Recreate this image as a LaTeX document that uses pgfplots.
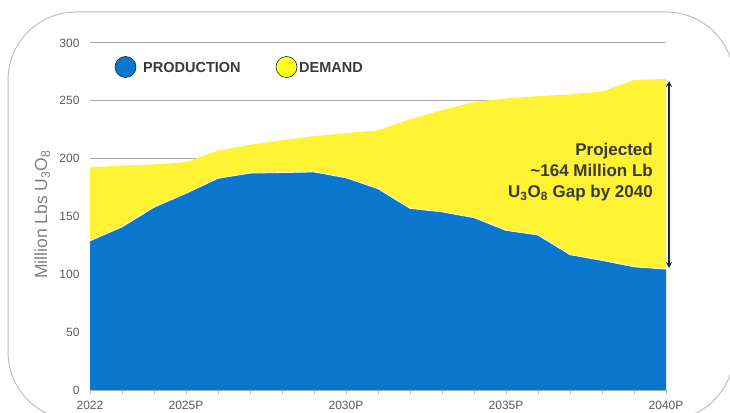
\documentclass[border=0pt]{standalone}
\usepackage{pgfplots}
\pgfplotsset{compat=1.18}
\usepackage{pgfplotstable}
\usetikzlibrary{arrows.meta}
\usepackage{fontspec}
\setmainfont{Liberation Sans}
\definecolor{prodblue}{HTML}{0B77CC}
\definecolor{demyellow}{HTML}{FFF333}
\definecolor{legyellow}{HTML}{FFFF1A}
\definecolor{ticktext}{HTML}{595959}
\definecolor{labeltext}{HTML}{808080}
\definecolor{darktext}{HTML}{3A3A3A}
\definecolor{arrownavy}{HTML}{1A2A3A}
\pgfplotstableread{
year prod dem
2022 129 192.5
2023 141 194
2024 158 195
2025 170 197
2026 183 207
2027 187.5 212
2028 188 216
2029 188.5 219.5
2030 183.5 222
2031 174 224.5
2032 157 234
2033 154 242
2034 149 249
2035 138 252
2036 134 254
2037 117 255.5
2038 112 258
2039 106.5 268
2040 104.5 269
}\datatable
\begin{document}
\begin{tikzpicture}[x=1pt,y=1pt]
\useasboundingbox (0,0) rectangle (730,412);
\clip (0,0) rectangle (730,412);
\draw[black!25, line width=1pt, rounded corners=68pt] (8,400) rectangle (734,-8);
\begin{axis}[
  at={(90pt,22pt)}, anchor=south west,
  scale only axis, width=576pt, height=347pt,
  xmin=2022, xmax=2040, ymin=0, ymax=300,
  axis lines*=left,
  y axis line style={draw=none},
  x axis line style={black!30, line width=0.8pt},
  ytick={0,50,...,300},
  ytick style={draw=none},
  xtick={2022,2025,2030,2035,2040},
  xticklabels={2022,2025P,2030P,2035P,2040P},
  minor xtick={2023,2024,2026,2027,2028,2029,2031,2032,2033,2034,2036,2037,2038,2039},
  tick align=outside,
  major tick length=4pt, minor tick length=4pt,
  xtick style={black!30, line width=0.6pt},
  minor tick style={black!30, line width=0.6pt},
  ymajorgrids,
  grid style={black!33, line width=1pt},
  tick label style={font=\fontsize{12}{14}\selectfont, text=ticktext},
  /pgf/number format/assume math mode=true,
  yticklabel style={xshift=-3pt},
  xticklabel style={yshift=-3.5pt},
  ylabel={Million Lbs U\textsubscript{3}O\textsubscript{8}},
  ylabel style={at={(axis description cs:-0.083,0.506)}, anchor=center, font=\fontsize{17.5}{19}\selectfont, text=labeltext},
  clip=false,
]
\addplot[fill=demyellow, draw=none] table[x=year, y=dem] {\datatable} \closedcycle;
\addplot[fill=prodblue, draw=none] table[x=year, y=prod] {\datatable} \closedcycle;
\addplot[white, line width=0.8pt] table[x=year, y=prod] {\datatable};
\end{axis}
% legend
\fill[prodblue, draw=arrownavy, line width=0.6pt] (125.5,345) circle (10.5);
\node[anchor=west, inner sep=0pt, font=\bfseries\fontsize{14.5}{16}\selectfont, text=darktext] at (143,344.5) {PRODUCTION};
\fill[legyellow, draw=arrownavy, line width=0.6pt] (286.5,345) circle (10.5);
\node[anchor=west, inner sep=0pt, font=\bfseries\fontsize{14.5}{16}\selectfont, text=darktext] at (299,344.5) {DEMAND};
% annotation
\draw[arrownavy, line width=1.3pt, {Stealth[length=6pt,width=6pt]}-{Stealth[length=6pt,width=6pt]}] (669,331) -- (669,144);
\node[anchor=base east, inner sep=0pt, font=\bfseries\fontsize{17}{20}\selectfont, text=darktext] at (653,256) {Projected};
\node[anchor=base east, inner sep=0pt, font=\bfseries\fontsize{17}{20}\selectfont, text=darktext] at (653,235) {\textasciitilde164 Million Lb};
\node[anchor=base east, inner sep=0pt, font=\bfseries\fontsize{17}{20}\selectfont, text=darktext] at (653,214) {U\textsubscript{3}O\textsubscript{8} Gap by 2040};
\end{tikzpicture}
\end{document}
